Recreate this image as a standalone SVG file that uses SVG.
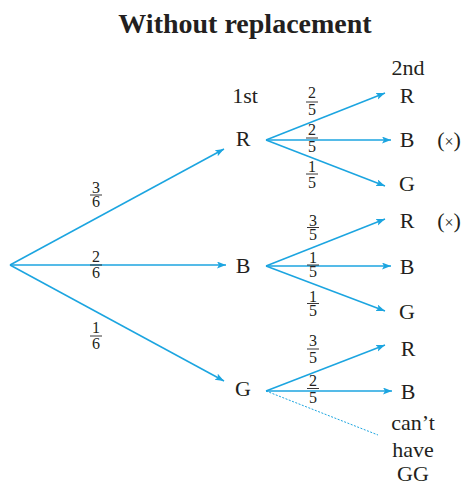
<svg xmlns="http://www.w3.org/2000/svg" width="467" height="488" viewBox="0 0 467 488">
<style>
text{font-family:"Liberation Serif","Times New Roman",serif;fill:#231f20}
.t{font-size:28px;font-weight:bold;text-anchor:middle}
.n{font-size:22px;text-anchor:middle}
.f{font-size:16px;text-anchor:middle}
.e{stroke:#1ca5e0;stroke-width:1.5;fill:none}
.d{stroke:#1ca5e0;stroke-width:1;stroke-dasharray:2 1.5;fill:none}
.bar{stroke:#231f20;stroke-width:0.9}
</style>
<defs>
<marker id="ah" markerUnits="userSpaceOnUse" markerWidth="10" markerHeight="8" refX="9" refY="3.5" orient="auto">
<path d="M0,0 L9,3.5 L0,7 L2,3.5 Z" fill="#1ca5e0"/>
</marker>
</defs>
<text class="t" x="245" y="33">Without replacement</text>
<text class="n" x="245" y="103">1st</text>
<text class="n" x="408" y="75">2nd</text>
<g id="connectors">
<line class="e" x1="10" y1="265" x2="224" y2="149" marker-end="url(#ah)"/>
<line class="e" x1="10" y1="265" x2="226" y2="265" marker-end="url(#ah)"/>
<line class="e" x1="10" y1="265" x2="224" y2="381" marker-end="url(#ah)"/>
<line class="e" x1="266" y1="140" x2="385" y2="93" marker-end="url(#ah)"/>
<line class="e" x1="266" y1="140" x2="391" y2="140" marker-end="url(#ah)"/>
<line class="e" x1="266" y1="140" x2="385" y2="186" marker-end="url(#ah)"/>
<line class="e" x1="266" y1="266" x2="385" y2="219" marker-end="url(#ah)"/>
<line class="e" x1="266" y1="266" x2="391" y2="266" marker-end="url(#ah)"/>
<line class="e" x1="266" y1="266" x2="385" y2="311" marker-end="url(#ah)"/>
<line class="e" x1="266" y1="391" x2="385" y2="345" marker-end="url(#ah)"/>
<line class="e" x1="266" y1="391" x2="392" y2="391" marker-end="url(#ah)"/>
<line class="d" x1="266" y1="391" x2="378" y2="435"/>
</g>
<g id="labels">
<g><text class="f" x="96" y="193">3</text><line class="bar" x1="90" y1="195" x2="102" y2="195"/><text class="f" x="96" y="207">6</text></g>
<g><text class="f" x="96" y="262">2</text><line class="bar" x1="90" y1="265" x2="102" y2="265"/><text class="f" x="96" y="278">6</text></g>
<g><text class="f" x="96" y="333">1</text><line class="bar" x1="90" y1="336" x2="102" y2="336"/><text class="f" x="96" y="349">6</text></g>
<g><text class="f" x="312" y="98">2</text><line class="bar" x1="306" y1="102" x2="318" y2="102"/><text class="f" x="312" y="115">5</text></g>
<g><text class="f" x="312" y="135">2</text><line class="bar" x1="306" y1="138" x2="318" y2="138"/><text class="f" x="312" y="152">5</text></g>
<g><text class="f" x="312" y="172">1</text><line class="bar" x1="306" y1="174" x2="318" y2="174"/><text class="f" x="312" y="188">5</text></g>
<g><text class="f" x="313" y="225.5">3</text><line class="bar" x1="307" y1="227.5" x2="319" y2="227.5"/><text class="f" x="313" y="240">5</text></g>
<g><text class="f" x="313" y="263">1</text><line class="bar" x1="307" y1="265" x2="319" y2="265"/><text class="f" x="313" y="277">5</text></g>
<g><text class="f" x="313" y="301.5">1</text><line class="bar" x1="307" y1="303.5" x2="319" y2="303.5"/><text class="f" x="313" y="316">5</text></g>
<g><text class="f" x="313" y="346">3</text><line class="bar" x1="307" y1="349" x2="319" y2="349"/><text class="f" x="313" y="363">5</text></g>
<g><text class="f" x="313" y="386">2</text><line class="bar" x1="307" y1="388.5" x2="319" y2="388.5"/><text class="f" x="313" y="403">5</text></g>
</g>
<g id="n1R"><text class="n" x="243" y="146">R</text></g>
<g id="n1B"><text class="n" x="243" y="273">B</text></g>
<g id="n1G"><text class="n" x="243" y="396">G</text></g>
<g id="nRR"><text class="n" x="407" y="103">R</text></g>
<g id="nRB"><text class="n" x="407" y="147">B</text><text class="n" x="449" y="147">(<tspan font-size="16">×</tspan>)</text></g>
<g id="nRG"><text class="n" x="407" y="191">G</text></g>
<g id="nBR"><text class="n" x="407" y="228">R</text><text class="n" x="449" y="228">(<tspan font-size="16">×</tspan>)</text></g>
<g id="nBB"><text class="n" x="407" y="274">B</text></g>
<g id="nBG"><text class="n" x="407" y="319">G</text></g>
<g id="nGR"><text class="n" x="408" y="356">R</text></g>
<g id="nGB"><text class="n" x="408" y="399">B</text></g>
<g id="nGG"><text class="n" x="413" y="430">can’t</text><text class="n" x="413" y="457">have</text><text class="n" x="413" y="481">GG</text></g>
</svg>
